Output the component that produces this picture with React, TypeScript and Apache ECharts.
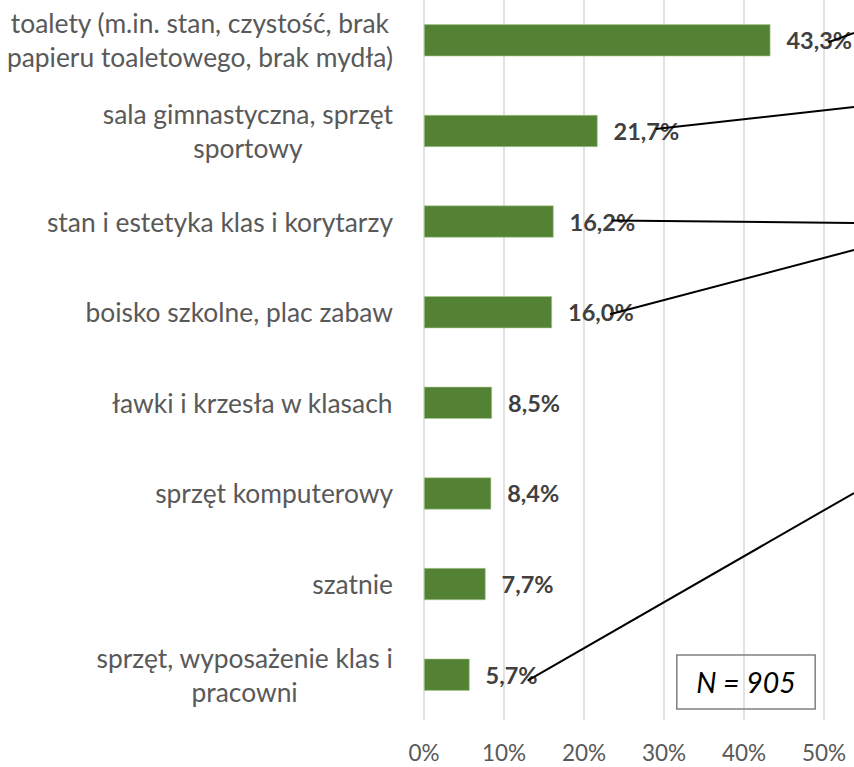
import React, { useEffect, useRef } from "react";
import * as echarts from "echarts";

const categories = [
  "toalety (m.in. stan, czystość, brak\npapieru toaletowego, brak mydła)",
  "sala gimnastyczna, sprzęt\nsportowy",
  "stan i estetyka klas i korytarzy",
  "boisko szkolne, plac zabaw",
  "ławki i krzesła w klasach",
  "sprzęt komputerowy",
  "szatnie",
  "sprzęt, wyposażenie klas i\npracowni",
];
const values = [43.3, 21.7, 16.2, 16.0, 8.5, 8.4, 7.7, 5.7];
const axisMin = 0;
const axisMax = 60;
const axisStep = 10;
const sampleNote = "N = 905";
// callout lines: which bar label they start from, and where they leave the picture on the right
const calloutIndex = [0, 1, 2, 3, 7];
const calloutEndY = [33, 107, 223, 250, 493];
const calloutStartDy = [2, -2, -1, 2, 6];

const FONT = "Lato, 'Open Sans', sans-serif";

export default function App() {
  const ref = useRef<HTMLDivElement>(null);
  useEffect(() => {
    if (!ref.current) return;
    const chart = echarts.init(ref.current, undefined, { renderer: "svg" });
    chart.setOption({
      animation: false,
      backgroundColor: "#ffffff",
      grid: {
        left: 424,
        width: 480,
        top: -5,
        height: 725,
        containLabel: false,
        outerBoundsMode: "none",
      },
      xAxis: {
        type: "value",
        min: axisMin,
        max: axisMax,
        interval: axisStep,
        axisLine: { show: false },
        axisTick: { show: false },
        splitLine: { show: true, lineStyle: { color: "#d9d9d9", width: 1.5 } },
        axisLabel: {
          formatter: (v: number) => `${v}%`,
          color: "#595959",
          fontSize: 22.5,
          fontFamily: FONT,
          margin: 21,
          showMaxLabel: false,
        },
      },
      yAxis: {
        type: "category",
        inverse: true,
        data: categories,
        axisLine: { show: false },
        axisTick: { show: false },
        splitLine: { show: false },
        axisLabel: {
          color: "#595959",
          fontSize: 26.4,
          fontFamily: FONT,
          margin: 31,
          lineHeight: 34,
          formatter: (v: string) =>
            v
              .split("\n")
              .map((l) => `{c|${l}}`)
              .join("\n"),
          rich: {
            c: {
              align: "center",
              color: "#595959",
              fontSize: 26.4,
              fontFamily: FONT,
              lineHeight: 34,
            },
          },
        },
      },
      series: [
        {
          type: "bar",
          data: values,
          barWidth: 32,
          itemStyle: { color: "#548235", borderColor: "#a9c98f", borderWidth: 0.6 },
          label: {
            show: true,
            position: "right",
            distance: 16,
            formatter: (p: any) => `${p.value.toFixed(1).replace(".", ",")}%`,
            color: "#404040",
            fontWeight: "bold",
            fontSize: 23.5,
            fontFamily: FONT,
          },
        },
      ],
    });

    const width = chart.getWidth();
    const lines = calloutIndex.map((idx, k) => {
      const p = chart.convertToPixel({ xAxisIndex: 0, yAxisIndex: 0 }, [values[idx], idx]) as number[];
      return {
        type: "line",
        z: 100,
        shape: { x1: p[0] + 58, y1: p[1] + calloutStartDy[k], x2: width, y2: calloutEndY[k] },
        style: { stroke: "#000000", lineWidth: 2 },
      };
    });
    const boxL = chart.convertToPixel({ xAxisIndex: 0 }, 31.6) as number;
    const boxR = chart.convertToPixel({ xAxisIndex: 0 }, 48.9) as number;
    chart.setOption({
      graphic: [
        ...lines,
        {
          type: "rect",
          z: 100,
          shape: { x: boxL, y: 655, width: boxR - boxL, height: 54 },
          style: { fill: "none", stroke: "#808080", lineWidth: 1.5 },
        },
        {
          type: "text",
          z: 101,
          x: (boxL + boxR) / 2,
          y: 682,
          style: {
            text: sampleNote,
            fontSize: 28.5,
            fontStyle: "italic",
            fontFamily: FONT,
            fill: "#000000",
            align: "center",
            verticalAlign: "middle",
          },
        },
      ],
    });
    return () => chart.dispose();
  }, []);
  return (
    <div
      ref={ref}
      style={{ position: "absolute", left: 0, top: 0, width: 854, height: 767 }}
    />
  );
}
